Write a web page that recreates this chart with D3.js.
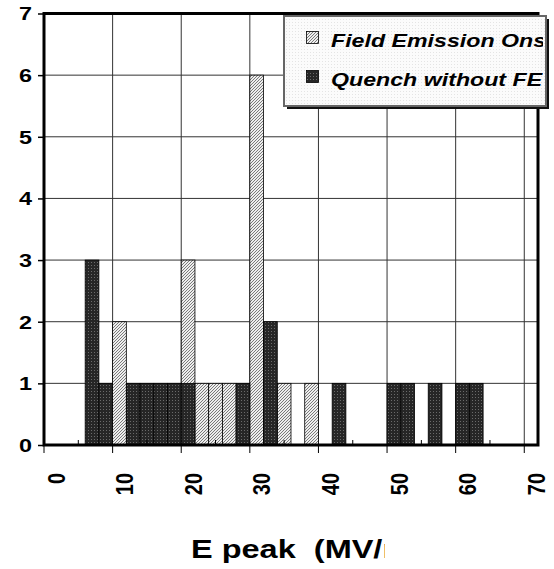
<!DOCTYPE html>
<html>
<head>
<meta charset="utf-8">
<script src="https://cdn.jsdelivr.net/npm/d3@7"></script>
<style>
  html, body { margin: 0; padding: 0; background: #fff; }
  svg { display: block; }
  text { font-family: Arial, "Liberation Sans", sans-serif; font-weight: bold; fill: #000; white-space: pre; }
</style>
</head>
<body>
<svg id="chart" width="554" height="569"></svg>
<script>
// ---------- data ----------
const categories = d3.range(0, 72, 2); // 0,2,...,70 MV/m bins
const fieldEmission = [0,0,0,0,0,2,0,0,0,0,3,1,1,1,0,6,0,1,0,1,0,0,0,0,0,0,0,0,0,0,0,0,0,0,0,0];
const quench        = [0,0,0,3,1,0,1,1,1,1,1,0,0,0,1,0,2,0,0,0,0,1,0,0,0,1,1,0,1,0,1,1,0,0,0,0];
const seriesNames = ["Field Emission Onset", "Quench without FE"];
const xTickLabels = [0, 10, 20, 30, 40, 50, 60, 70];
const yTicks = [0, 1, 2, 3, 4, 5, 6, 7];
const xTitle = "E peak  (MV/m)";

// ---------- layout ----------
const svg = d3.select("#chart");
const L = 44, R = 538, T = 13.5, B = 445;
const SX = 1.3; // horizontal stretch of upright text

const x = d3.scaleBand().domain(categories).range([L, R]).padding(0);
const y = d3.scaleLinear().domain([0, 7]).range([B, T]);

// ---------- patterns ----------
const defs = svg.append("defs");
const pl = defs.append("pattern").attr("id", "light").attr("patternUnits", "userSpaceOnUse")
  .attr("width", 3).attr("height", 3);
pl.append("rect").attr("width", 3).attr("height", 3).attr("fill", "#eeeeee");
pl.append("path").attr("d", "M0,3 L3,0 M-1,1 L1,-1 M2,4 L4,2").attr("stroke", "#7a7a7a").attr("stroke-width", 1);

const pd = defs.append("pattern").attr("id", "dark").attr("patternUnits", "userSpaceOnUse")
  .attr("width", 3).attr("height", 3);
pd.append("rect").attr("width", 3).attr("height", 3).attr("fill", "#262626");
pd.append("rect").attr("x", 1).attr("y", 1).attr("width", 1).attr("height", 1).attr("fill", "#6a6a6a");

const pg = defs.append("pattern").attr("id", "legbg").attr("patternUnits", "userSpaceOnUse")
  .attr("width", 3).attr("height", 3);
pg.append("rect").attr("width", 3).attr("height", 3).attr("fill", "#fbfbfb");
pg.append("rect").attr("x", 1).attr("y", 1).attr("width", 1).attr("height", 1).attr("fill", "#e4e4e4");

defs.append("clipPath").attr("id", "legclip").append("rect")
  .attr("x", 284).attr("y", 16).attr("width", 259).attr("height", 90);
defs.append("clipPath").attr("id", "titleclip").append("rect")
  .attr("x", 0).attr("y", 500).attr("width", 385).attr("height", 69);

// ---------- gridlines ----------
const grid = svg.append("g");
grid.selectAll("line.h").data(yTicks.slice(1, -1)).join("line")
  .attr("x1", L).attr("x2", R).attr("y1", d => y(d)).attr("y2", d => y(d))
  .attr("stroke", "#333").attr("stroke-width", 1);
const vBounds = categories.filter((c, i) => i > 0 && i % 5 === 0);
grid.selectAll("line.v").data(vBounds).join("line")
  .attr("x1", d => x(d)).attr("x2", d => x(d)).attr("y1", T).attr("y2", B)
  .attr("stroke", "#333").attr("stroke-width", 1);

// ---------- bars ----------
const bars = svg.append("g").attr("stroke", "#000").attr("stroke-width", 0.8);
bars.selectAll("rect.fe").data(categories.map((c, i) => ({c, v: fieldEmission[i]})).filter(d => d.v > 0))
  .join("rect")
  .attr("x", d => x(d.c)).attr("width", x.bandwidth())
  .attr("y", d => y(d.v)).attr("height", d => y(0) - y(d.v))
  .attr("fill", "url(#light)");
bars.selectAll("rect.q").data(categories.map((c, i) => ({c, v: quench[i]})).filter(d => d.v > 0))
  .join("rect")
  .attr("x", d => x(d.c)).attr("width", x.bandwidth())
  .attr("y", d => y(d.v)).attr("height", d => y(0) - y(d.v))
  .attr("fill", "url(#dark)");

// ---------- frame ----------
svg.append("rect").attr("x", L).attr("y", T).attr("width", R - L).attr("height", B - T)
  .attr("fill", "none").attr("stroke", "#000").attr("stroke-width", 3);

// ---------- y axis ----------
const yAxis = d3.axisLeft(y).tickValues(yTicks).tickSize(6).tickFormat(d3.format("d"));
const gy = svg.append("g").attr("transform", `translate(${L},0)`).call(yAxis);
gy.select(".domain").remove();
gy.selectAll(".tick line").attr("stroke", "#000").attr("stroke-width", 1.5);
gy.selectAll(".tick text").attr("dy", "0.36em")
  .attr("transform", `scale(${SX},1)`)
  .attr("font-size", 18).attr("text-anchor", "end")
  .attr("x", -12 / SX);

// ---------- x axis ----------
const majorBounds = categories.filter((c, i) => i % 5 === 0);
const gxt = svg.append("g");
gxt.selectAll("line.maj").data(majorBounds).join("line")
  .attr("x1", d => x(d)).attr("x2", d => x(d)).attr("y1", B).attr("y2", B + 8)
  .attr("stroke", "#000").attr("stroke-width", 1);
gxt.selectAll("line.min").data(majorBounds).join("line")
  .attr("x1", d => x(d) + 2.5 * x.bandwidth()).attr("x2", d => x(d) + 2.5 * x.bandwidth())
  .attr("y1", B - 5).attr("y2", B)
  .attr("stroke", "#000").attr("stroke-width", 1);

const xAxis = d3.axisBottom(x).tickValues(xTickLabels).tickSize(0).tickFormat(d3.format("d"));
const gx = svg.append("g").attr("transform", `translate(5.5,${B})`).call(xAxis);
gx.select(".domain").remove();
gx.selectAll(".tick text")
  .attr("font-size", 20).attr("text-anchor", "end")
  .attr("x", 0).attr("y", 0).attr("dy", "0.36em")
  .attr("transform", "translate(0,28) scale(1.15,1) rotate(-90)");

// ---------- axis title ----------
svg.append("g").attr("clip-path", "url(#titleclip)")
  .append("text").attr("transform", `translate(191,558) scale(1.25,1)`)
  .attr("font-size", 26).text(xTitle);

// ---------- legend ----------
const leg = svg.append("g");
leg.append("rect").attr("x", 287).attr("y", 19).attr("width", 262).attr("height", 90).attr("fill", "#111");
leg.append("rect").attr("x", 284).attr("y", 16).attr("width", 262).attr("height", 90)
  .attr("fill", "url(#legbg)").attr("stroke", "#666").attr("stroke-width", 2);
const items = leg.append("g").attr("clip-path", "url(#legclip)");
const fills = ["url(#light)", "url(#dark)"];
seriesNames.forEach((name, i) => {
  const cy = 38 + i * 39;
  items.append("rect").attr("x", 306.5).attr("y", cy - 6.5).attr("width", 12).attr("height", 12)
    .attr("fill", fills[i]).attr("stroke", "#000").attr("stroke-width", 0.8);
  items.append("text").attr("transform", `translate(331,${cy + 8.5}) scale(1.22,1)`)
    .attr("font-size", 19).attr("font-style", "italic").text(name);
});
</script>
</body>
</html>
